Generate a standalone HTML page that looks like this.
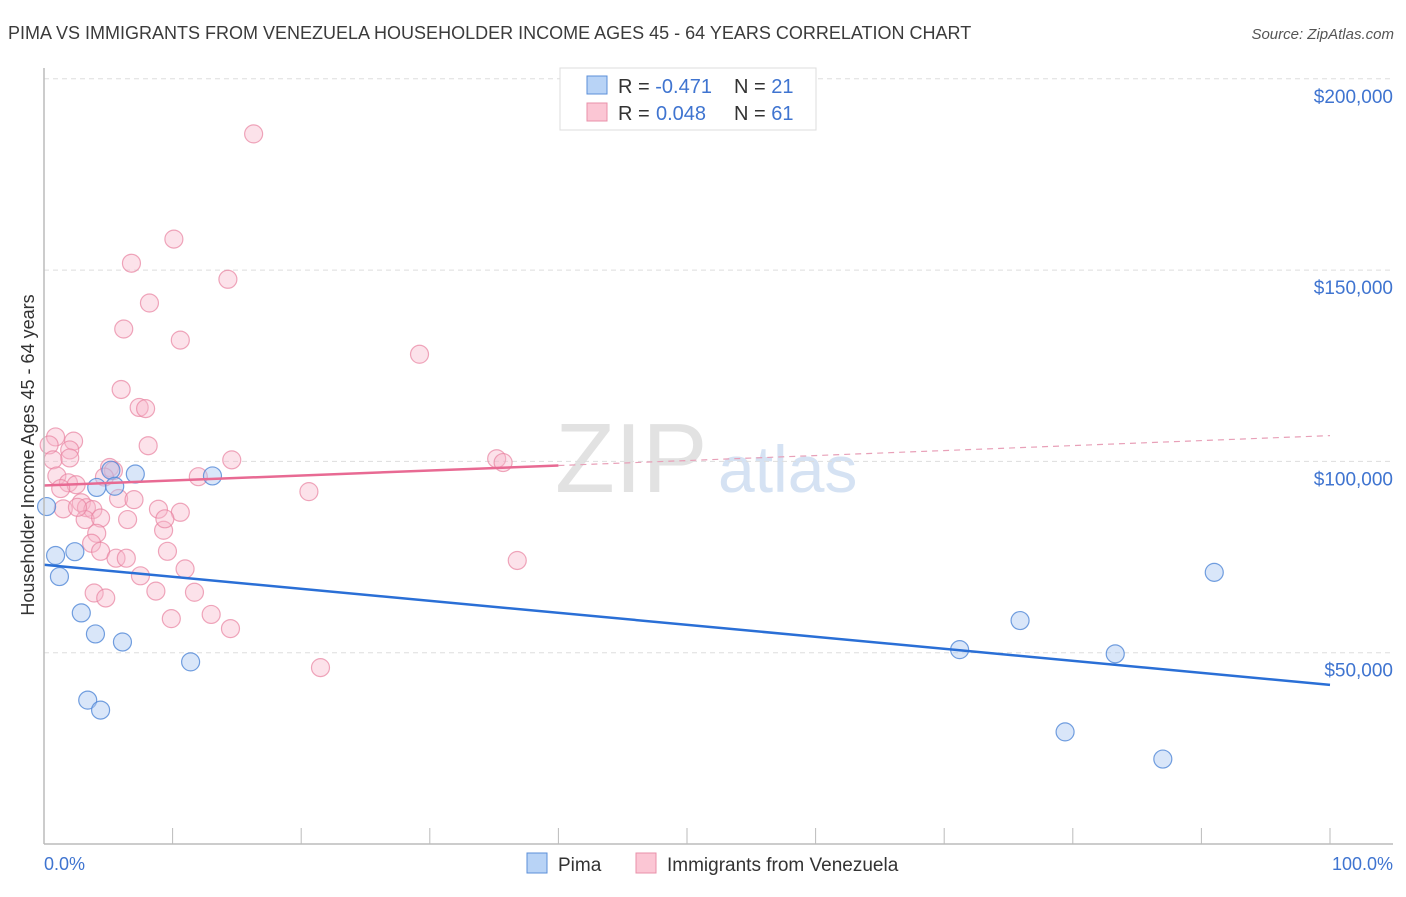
<!DOCTYPE html>
<html><head><meta charset="utf-8"><style>
body{margin:0;background:#fff;font-family:"Liberation Sans",sans-serif}
svg text{font-family:"Liberation Sans",sans-serif}
</style></head><body>
<svg id="chart" width="1406" height="892">
<text x="8" y="39" font-size="18" fill="#3b3b3b">PIMA VS IMMIGRANTS FROM VENEZUELA HOUSEHOLDER INCOME AGES 45 - 64 YEARS CORRELATION CHART</text>
<text x="1394" y="39" font-size="15" fill="#555" font-style="italic" text-anchor="end">Source: ZipAtlas.com</text>
<text x="555" y="492" font-size="98" fill="#e2e2e2" font-family="Liberation Serif">ZIP</text>
<text x="718" y="492" font-size="66" fill="#d5e2f3">atlas</text>
<text transform="translate(34,455) rotate(-90)" font-size="18" fill="#333" text-anchor="middle">Householder Income Ages 45 - 64 years</text>
<g id="grid"></g><g id="marks"></g>
<line x1="44" y1="844" x2="1393" y2="844" stroke="#bbb" stroke-width="1.5"/>
<line x1="44" y1="68" x2="44" y2="844" stroke="#bbb" stroke-width="1.5"/>
<text x="44" y="870" font-size="18" fill="#3f74d0">0.0%</text>
<text x="1393" y="870" font-size="18" fill="#3f74d0" text-anchor="end">100.0%</text>
<g>
<rect x="560" y="68" width="256" height="62" fill="#fff" stroke="#ddd"/>
<rect x="587" y="76" width="20" height="18" fill="#b8d3f6" stroke="#5b8fd8"/>
<rect x="587" y="103" width="20" height="18" fill="#fbc6d4" stroke="#e890aa"/>
<text x="618" y="93" font-size="20" fill="#333">R = <tspan fill="#3f74d0">-0.471</tspan><tspan x="734">N = </tspan><tspan fill="#3f74d0">21</tspan></text>
<text x="618" y="120" font-size="20" fill="#333">R = <tspan fill="#3f74d0" x="656">0.048</tspan><tspan x="734">N = </tspan><tspan fill="#3f74d0">61</tspan></text>
</g>
<g>
<rect x="527" y="853" width="20" height="20" fill="#b8d3f6" stroke="#5b8fd8"/>
<text x="558" y="871" font-size="19" fill="#333">Pima</text>
<rect x="636" y="853" width="20" height="20" fill="#fbc6d4" stroke="#e890aa"/>
<text x="667" y="871" font-size="19" fill="#333">Immigrants from Venezuela</text>
</g>
</svg>
<script>
const yTicks=[50000,100000,150000,200000];
const yTickLabels=["$50,000","$100,000","$150,000","$200,000"];
const xTicks=[0,10,20,30,40,50,60,70,80,90,100];
const pimaX=[0.2,0.9,1.2,2.4,2.9,4.0,3.4,4.4,5.2,5.5,6.1,7.1,11.4,13.1,71.2,75.9,79.4,83.3,87.0,91.0,4.1];
const pimaY=[88200,75400,69900,76400,60400,54900,37600,35000,97700,93500,52800,96700,47600,96200,50800,58400,29300,49700,22200,71000,93200];
const venX=[16.3,10.1,6.8,14.3,8.2,6.2,10.6,29.2,6.0,7.4,7.9,8.1,14.6,0.9,2.3,0.4,2.0,2.0,0.7,1.0,1.9,2.5,1.3,5.1,5.4,4.7,5.8,2.9,3.3,3.8,1.5,3.2,4.4,6.5,8.9,10.6,4.1,9.3,3.7,4.4,5.6,6.4,9.6,7.5,10.970,3.9,4.8,8.7,11.7,9.9,13.0,14.5,21.5,20.6,35.2,35.7,36.8,9.4,2.6,7.0,12.0];
const venY=[185600,158100,151800,147600,141400,134600,131700,128000,118800,114100,113800,104100,100400,106400,105300,104300,103000,100900,100400,96200,94400,93900,92900,98400,97600,95900,90300,89200,87900,87400,87600,84800,85200,84800,87500,86700,81200,82000,78600,76500,74700,74700,76500,70100,71900,65600,64300,66100,65800,58900,60000,56300,46100,92100,100700,99700,74100,85000,88000,90000,96000];
const X=v=>44+v*12.86, Y=v=>844-v/50000*191.3;
const NS="http://www.w3.org/2000/svg";
const grid=document.getElementById('grid'), marks=document.getElementById('marks');
function mk(tag,attrs,parent){const e=document.createElementNS(NS,tag);for(const k in attrs)e.setAttribute(k,attrs[k]);parent.appendChild(e);return e;}
yTicks.forEach((t,i)=>{
 const l=mk('line',{x1:44,x2:1393,y1:Y(t),y2:Y(t),stroke:'#ddd','stroke-dasharray':'5,4'},grid);
 
 
 const tx=mk('text',{x:1393,y:Y(t)+24,'font-size':19,fill:'#3f74d0','text-anchor':'end'},grid);
 tx.textContent=yTickLabels[i];
 
 
});
xTicks.forEach(t=>{
 const l=mk('line',{x1:X(t),x2:X(t),y1:828,y2:844,stroke:'#bbb'},grid);
 
 
});
function fit(xs,ys){const n=xs.length;let mx=0,my=0;xs.forEach((x,i)=>{mx+=x;my+=ys[i]});mx/=n;my/=n;let sxy=0,sxx=0;xs.forEach((x,i)=>{sxy+=(x-mx)*(ys[i]-my);sxx+=(x-mx)**2});const b=sxy/sxx;return [my-b*mx,b];}
venX.forEach((x,i)=>{
 const c=mk('circle',{cx:X(x),cy:Y(venY[i]),r:9,fill:'rgba(248,182,202,0.4)',stroke:'rgba(232,130,160,0.7)','stroke-width':1.2},marks);
 
 
});
pimaX.forEach((x,i)=>{
 const c=mk('circle',{cx:X(x),cy:Y(pimaY[i]),r:9,fill:'rgba(170,200,242,0.45)',stroke:'rgba(80,135,215,0.8)','stroke-width':1.2},marks);
 
 
});
const [pa,pb]=fit(pimaX,pimaY);
const pl=mk('line',{x1:X(0),y1:Y(pa),x2:X(100),y2:Y(pa+pb*100),stroke:'#2a6fd6','stroke-width':2.5},marks);


const [va,vb]=fit(venX,venY);
const vl=mk('line',{x1:X(0),y1:Y(va),x2:X(40),y2:Y(va+vb*40),stroke:'#e86a93','stroke-width':2.5},marks);


const vd=mk('line',{x1:X(40),y1:Y(va+vb*40),x2:X(100),y2:Y(va+vb*100),stroke:'#e8a0b8','stroke-width':1.2,'stroke-dasharray':'6,5'},marks);


</script>
</body></html>
